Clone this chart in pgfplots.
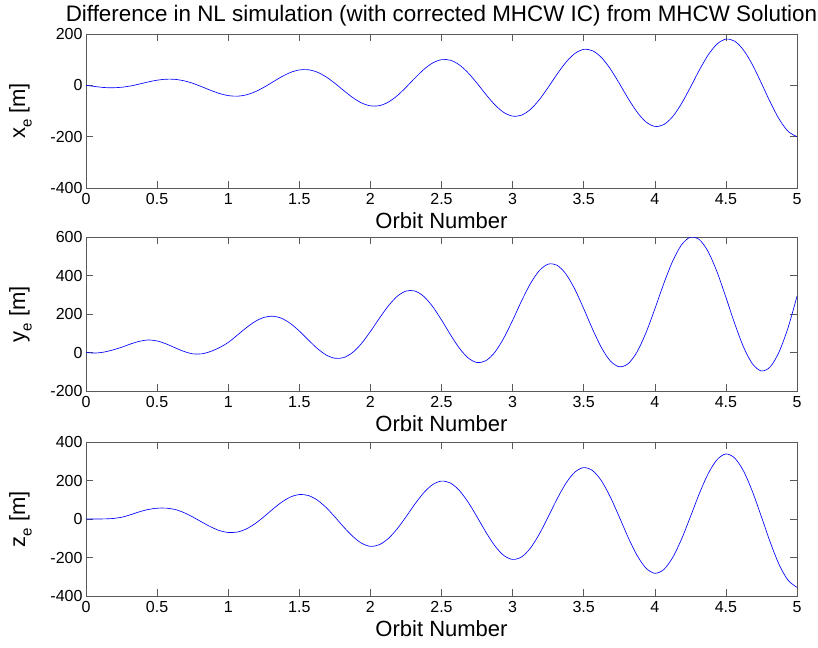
\documentclass[border=0pt]{standalone}
\usepackage{fontspec}
\setmainfont{Liberation Sans}
\usepackage{pgfplots}
\pgfplotsset{compat=1.18}
\definecolor{curve}{RGB}{40,40,150}
\begin{document}
\begin{tikzpicture}
\useasboundingbox (0pt,0pt) rectangle (818pt,647pt);
\pgfplotsset{
 every axis/.append style={
  scale only axis, width=711pt, height=154pt,
  xmin=0, xmax=5, xtick={0,0.5,1,1.5,2,2.5,3,3.5,4,4.5,5},
  axis line style={black!65, line width=0.6pt},
  tick style={black!65, line width=0.6pt},
  major tick length=7pt,
  tick label style={font=\fontsize{16}{18}\selectfont},
  xticklabel style={yshift=-2pt},
  /pgf/number format/assume math mode=true,
  label style={font=\fontsize{22}{24}\selectfont},
  xlabel={Orbit Number},
  xlabel style={at={(axis description cs:0.5,0)}, anchor=north, yshift=-21pt},
  ylabel style={at={(axis description cs:-0.076,0.5)}, anchor=south, inner sep=0pt},
  every axis plot/.append style={curve, line width=0.65pt, smooth, no marks},
 }
}
\begin{axis}[at={(86pt,459pt)}, anchor=south west,
  ymin=-400, ymax=200, ytick={-400,-200,0,200},
  ylabel={x\raisebox{-0.3em}{\fontsize{15}{15}\selectfont e} [m]},
  title={Difference in NL simulation (with corrected MHCW IC) from MHCW Solution},
  title style={font=\fontsize{22.4}{24}\selectfont, yshift=-2pt}]
\addplot coordinates {
(0,0) (0.0625,-4.5) (0.125,-8.5) (0.1875,-9.5) (0.25,-7.5) (0.3125,-2.6) (0.375,5) (0.4375,13.1)
(0.5,20) (0.5625,23.9) (0.625,23.3) (0.6875,17.9) (0.75,8) (0.8125,-5.1) (0.875,-19.1) (0.9375,-31.6)
(1,-40) (1.0625,-42.3) (1.125,-37.5) (1.1875,-25.6) (1.25,-8) (1.3125,12.7) (1.375,33.2) (1.4375,50.1)
(1.5,60) (1.5625,60.8) (1.625,51.6) (1.6875,33.2) (1.75,8) (1.8125,-20.4) (1.875,-47.4) (1.9375,-68.6)
(2,-80) (2.0625,-79.3) (2.125,-65.8) (2.1875,-40.9) (2.25,-8) (2.3125,28) (2.375,61.5) (2.4375,87)
(2.5,100) (2.5625,97.8) (2.625,79.9) (2.6875,48.5) (2.75,8) (2.8125,-35.7) (2.875,-75.7) (2.9375,-105.5)
(3,-120) (3.0625,-116.3) (3.125,-94) (3.1875,-56.2) (3.25,-8) (3.3125,43.3) (3.375,89.8) (3.4375,124)
(3.5,140) (3.5625,134.7) (3.625,108.2) (3.6875,63.9) (3.75,8) (3.8125,-51) (3.875,-103.9) (3.9375,-142.5)
(4,-160) (4.0625,-153.2) (4.125,-122.3) (4.1875,-71.5) (4.25,-8) (4.3125,58.6) (4.375,118.1) (4.4375,160.9)
(4.5,180) (4.5625,171.7) (4.625,136.5) (4.6875,79.2) (4.75,8) (4.8125,-66.3) (4.875,-132.2) (4.9375,-179.4)
(5,-200)};
\end{axis}
\begin{axis}[at={(86pt,256pt)}, anchor=south west,
  ymin=-200, ymax=600, ytick={-200,0,200,400,600},
  ylabel={y\raisebox{-0.3em}{\fontsize{15}{15}\selectfont e} [m]}]
\addplot coordinates {
(0,0) (0.0625,-3) (0.125,2) (0.1875,13) (0.25,27) (0.3125,44) (0.375,58) (0.4375,65)
(0.5,60) (0.5625,45) (0.625,25) (0.6875,6) (0.75,-7) (0.8125,-7) (0.875,5) (0.9375,25)
(1,52) (1.0625,89.1) (1.125,127.3) (1.1875,160.2) (1.25,182) (1.3125,188.5) (1.375,177.8) (1.4375,150.9)
(1.5,111.5) (1.5625,66) (1.625,22) (1.6875,-12.3) (1.75,-30) (1.8125,-26.4) (1.875,0) (1.9375,46.9)
(2,109) (2.0625,177) (2.125,241) (2.1875,291.2) (2.25,319) (2.3125,319.5) (2.375,291.6) (2.4375,238.8)
(2.5,169) (2.5625,93) (2.625,23.2) (2.6875,-28.3) (2.75,-52) (2.8125,-42.4) (2.875,1.3) (2.9375,74)
(3,167) (3.0625,267) (3.125,357.3) (3.1875,425) (3.25,459) (3.3125,453.3) (3.375,407.8) (3.4375,328.8)
(3.5,228) (3.5625,121) (3.625,25) (3.6875,-44.1) (3.75,-74) (3.8125,-58.1) (3.875,3) (3.9375,101.9)
(4,226) (4.0625,356.9) (4.125,473.6) (4.1875,558.9) (4.25,599) (4.3125,587.2) (4.375,524.1) (4.4375,418.8)
(4.5,287) (4.5625,149.1) (4.625,26.7) (4.6875,-59.9) (4.75,-96) (4.8125,-73.9) (4.875,4.8) (4.9375,130)
(5,292)};
\end{axis}
\begin{axis}[at={(86pt,51pt)}, anchor=south west,
  ymin=-400, ymax=400, ytick={-400,-200,0,200,400},
  ylabel={z\raisebox{-0.3em}{\fontsize{15}{15}\selectfont e} [m]}]
\addplot coordinates {
(0,0) (0.0625,0) (0.125,0.5) (0.1875,2.5) (0.25,9) (0.3125,22) (0.375,37.3) (0.4375,49.5)
(0.5,56) (0.5625,56.5) (0.625,49.7) (0.6875,33.6) (0.75,11) (0.8125,-15) (0.875,-40.1) (0.9375,-59.8)
(1,-70) (1.0625,-67.9) (1.125,-52.5) (1.1875,-25) (1.25,11) (1.3125,50.4) (1.375,86.8) (1.4375,114.1)
(1.5,127) (1.5625,122.2) (1.625,99.2) (1.6875,60.4) (1.75,11) (1.8125,-41.8) (1.875,-89.6) (1.9375,-125.5)
(2,-142) (2.0625,-133.5) (2.125,-102) (2.1875,-51.8) (2.25,11) (2.3125,77.2) (2.375,136.3) (2.4375,178.8)
(2.5,197) (2.5625,186.9) (2.625,148.7) (2.6875,87.2) (2.75,11) (2.8125,-68.6) (2.875,-139.1) (2.9375,-189.1)
(3,-210) (3.0625,-197.2) (3.125,-151.5) (3.1875,-78.6) (3.25,11) (3.3125,104) (3.375,185.8) (3.4375,243.5)
(3.5,267) (3.5625,251.5) (3.625,198.2) (3.6875,114) (3.75,11) (3.8125,-95.4) (3.875,-188.6) (3.9375,-255)
(4,-282) (4.0625,-263) (4.125,-201) (4.1875,-105.4) (4.25,11) (4.3125,130.7) (4.375,235.3) (4.4375,308.1)
(4.5,338) (4.5625,316.2) (4.625,247.7) (4.6875,140.8) (4.75,11) (4.8125,-122.1) (4.875,-238.1) (4.9375,-318.5)
(5,-355)};
\end{axis}
\end{tikzpicture}
\end{document}
